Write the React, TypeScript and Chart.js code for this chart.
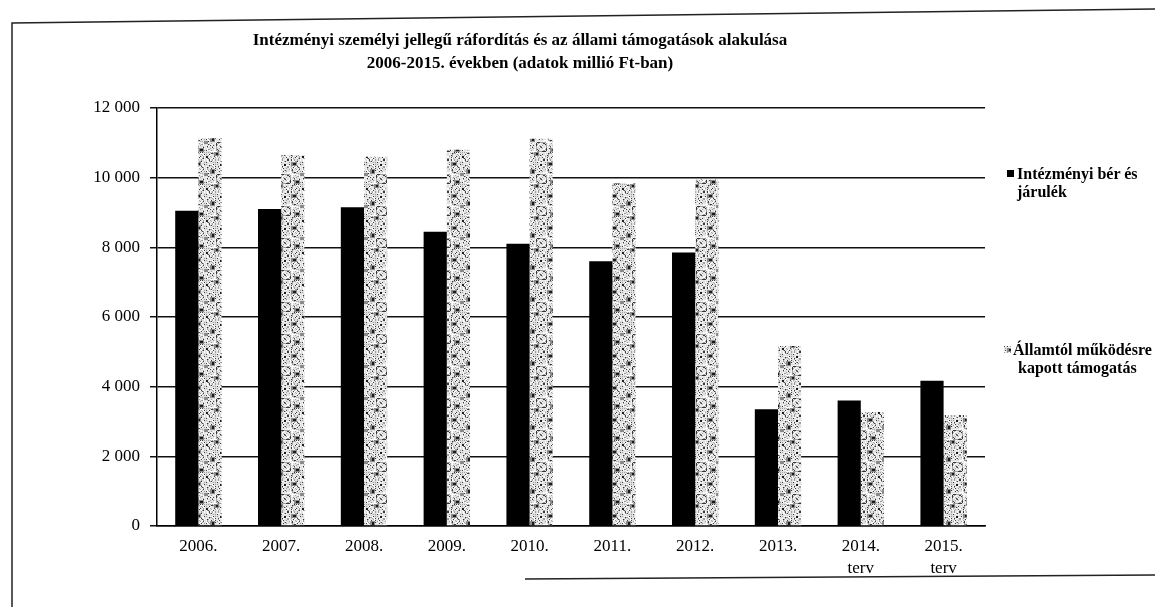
import React, { useEffect, useRef } from "react";
import { Chart, registerables } from "chart.js";

Chart.register(...registerables);

const titleLines = [
  "Intézményi személyi jellegű ráfordítás és az állami támogatások alakulása",
  "2006-2015. években (adatok millió Ft-ban)",
];

const categories: string[][] = [
  ["2006."],
  ["2007."],
  ["2008."],
  ["2009."],
  ["2010."],
  ["2011."],
  ["2012."],
  ["2013."],
  ["2014.", "terv"],
  ["2015.", "terv"],
];

const seriesNames = ["Intézményi bér és járulék", "Államtól működésre kapott támogatás"];
const legendLines = [
  ["Intézményi bér és", "járulék"],
  ["Államtól működésre", "kapott támogatás"],
];

const wagesValues = [9050, 9100, 9150, 8450, 8100, 7600, 7850, 3350, 3600, 4170];
const supportValues = [11130, 10650, 10600, 10800, 11120, 9850, 9950, 5170, 3270, 3190];

const yTicks = [0, 2000, 4000, 6000, 8000, 10000, 12000];

const SERIF = "'Liberation Serif', 'Times New Roman', serif";

function makeTile(): HTMLCanvasElement {
  const S = 32;
  const c = document.createElement("canvas");
  c.width = S;
  c.height = S;
  const g = c.getContext("2d")!;
  g.fillStyle = "#e2e2e2";
  g.fillRect(0, 0, S, S);
  // fine speckle texture (deterministic)
  for (let y = 0; y < S; y++) {
    for (let x = 0; x < S; x++) {
      const h = (x * 73 + y * 151 + x * y * 17) % 31;
      if (h < 3) {
        g.fillStyle = "#3a3a3a";
        g.fillRect(x, y, 1, 1);
      } else if (h < 8) {
        g.fillStyle = "#a0a0a0";
        g.fillRect(x, y, 1, 1);
      } else if (h < 15) {
        g.fillStyle = "#ffffff";
        g.fillRect(x, y, 1, 1);
      }
    }
  }
  // grey blotches
  const greyBlobs = [
    [3, 2, 6, 4],
    [18, 9, 5, 5],
    [6, 20, 6, 4],
    [22, 24, 5, 4],
    [12, 13, 4, 3],
  ];
  g.fillStyle = "#8a8a8a";
  for (const [x, y, w, h] of greyBlobs) g.fillRect(x, y, w, h);
  // dark clumps
  const darkBlobs = [
    [5, 3, 3, 2],
    [20, 10, 2, 3],
    [8, 21, 3, 2],
    [24, 25, 2, 2],
    [28, 4, 2, 2],
    [14, 28, 2, 2],
  ];
  g.fillStyle = "#1a1a1a";
  for (const [x, y, w, h] of darkBlobs) g.fillRect(x, y, w, h);
  return c;
}

const frameLines = {
  id: "frameLines",
  beforeDraw(chart: Chart) {
    const ctx = chart.ctx;
    ctx.save();
    ctx.strokeStyle = "#222";
    ctx.lineWidth = 1.5;
    ctx.beginPath();
    ctx.moveTo(12, 607);
    ctx.lineTo(12, 23);
    ctx.lineTo(1155, 9);
    ctx.moveTo(525, 579);
    ctx.lineTo(1155, 575);
    ctx.stroke();
    ctx.restore();
  },
};

function fmt(v: number): string {
  return String(v).replace(/\B(?=(\d{3})+(?!\d))/g, " ");
}

export default function App() {
  const canvasRef = useRef<HTMLCanvasElement | null>(null);
  const markerRef = useRef<HTMLCanvasElement | null>(null);

  useEffect(() => {
    const canvas = canvasRef.current;
    if (!canvas) return;
    const tile = makeTile();
    const ctx = canvas.getContext("2d")!;
    const pattern = ctx.createPattern(tile, "repeat")!;

    const m = markerRef.current;
    if (m) {
      const mc = m.getContext("2d")!;
      mc.fillStyle = mc.createPattern(tile, "repeat")!;
      mc.fillRect(0, 0, m.width, m.height);
    }

    const chart = new Chart(canvas, {
      type: "bar",
      data: {
        labels: categories,
        datasets: [
          {
            label: seriesNames[0],
            data: wagesValues,
            backgroundColor: "#000000",
            borderWidth: 0,
            categoryPercentage: 0.56,
            barPercentage: 1.0,
          },
          {
            label: seriesNames[1],
            data: supportValues,
            backgroundColor: pattern as any,
            borderWidth: 0,
            categoryPercentage: 0.56,
            barPercentage: 1.0,
          },
        ],
      },
      options: {
        animation: false,
        responsive: false,
        maintainAspectRatio: false,
        layout: { padding: { left: 0, top: 108, right: 170, bottom: 0 } },
        plugins: {
          legend: { display: false },
          title: { display: false },
          tooltip: { enabled: false },
        },
        scales: {
          x: {
            grid: { display: false, drawTicks: false },
            border: { display: true, color: "#000", width: 1.5 },
            ticks: {
              color: "#000",
              padding: 9,
              maxRotation: 0,
              autoSkip: false,
              font: { family: SERIF, size: 17, lineHeight: 1.3 },
            },
            afterFit(scale: any) {
              scale.height = 81;
            },
          },
          y: {
            min: 0,
            max: 12000,
            afterBuildTicks(scale: any) {
              scale.ticks = yTicks.map((v) => ({ value: v }));
            },
            grid: {
              color: "#111",
              lineWidth: 1.5,
              drawTicks: true,
              tickLength: 7,
            },
            border: { display: true, color: "#000", width: 1.5 },
            ticks: {
              color: "#000",
              padding: 10,
              font: { family: SERIF, size: 17 },
              callback: (v: any) => fmt(Number(v)),
            },
            afterFit(scale: any) {
              scale.width = 157;
            },
          },
        },
      },
      plugins: [frameLines],
    });
    return () => chart.destroy();
  }, []);

  const legendText: React.CSSProperties = {
    position: "absolute",
    left: 1017,
    fontFamily: SERIF,
    fontWeight: "bold",
    fontSize: 16,
    lineHeight: "18px",
    color: "#000",
    whiteSpace: "nowrap",
  };

  return (
    <div style={{ position: "absolute", left: 0, top: 0, width: 1155, height: 607, background: "#fff" }}>
      <canvas ref={canvasRef} width={1155} height={607} style={{ position: "absolute", left: 0, top: 0 }} />
      <div
        style={{
          position: "absolute",
          left: 0,
          top: 28,
          width: 1040,
          textAlign: "center",
          fontFamily: SERIF,
          fontWeight: "bold",
          fontSize: 17,
          lineHeight: "23px",
          color: "#000",
        }}
      >
        <div>{titleLines[0]}</div>
        <div>{titleLines[1]}</div>
      </div>
      <div style={{ position: "absolute", left: 1007, top: 170, width: 7, height: 7, background: "#000" }} />
      <div style={{ ...legendText, top: 165 }}>
        <div>{legendLines[0][0]}</div>
        <div>{legendLines[0][1]}</div>
      </div>
      <canvas ref={markerRef} width={7} height={7} style={{ position: "absolute", left: 1004, top: 346 }} />
      <div style={{ ...legendText, left: 1013, top: 341 }}>
        <div>{legendLines[1][0]}</div>
        <div style={{ paddingLeft: 5 }}>{legendLines[1][1]}</div>
      </div>
    </div>
  );
}
